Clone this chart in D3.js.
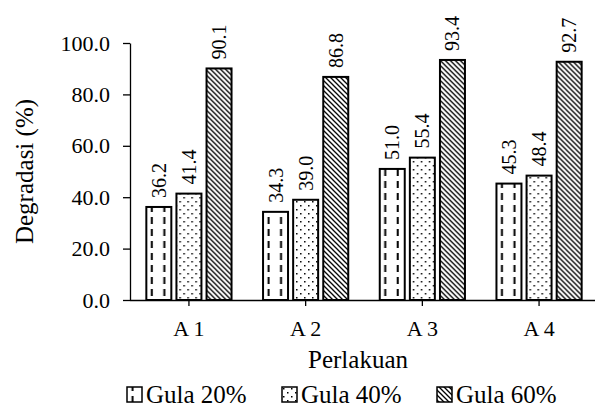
<!DOCTYPE html>
<html lang="en">
<head>
    <meta charset="UTF-8">
    <title>Degradasi</title>
    <script src="https://d3js.org/d3.v7.min.js"></script>
    <style>
        body { margin: 0; background: #fff; }
        svg { display: block; }
        svg text { font-family: "Liberation Serif", Tinos, "Times New Roman", "DejaVu Serif", serif !important; fill: #000; }
    </style>
</head>
<body>
<div id="chart"></div>
<script>
    // Data
    const categories = ["A 1", "A 2", "A 3", "A 4"];
    const seriesNames = ["Gula 20%", "Gula 40%", "Gula 60%"];
    const gula20 = [36.2, 34.3, 51.0, 45.3];
    const gula40 = [41.4, 39.0, 55.4, 48.4];
    const gula60 = [90.1, 86.8, 93.4, 92.7];
    const yTicks = [0, 20, 40, 60, 80, 100];

    const width = 595, height = 409;
    const margin = {left: 130, top: 43, bottom: 109};
    const plotRight = 598;

    const svg = d3.select("#chart").append("svg")
        .attr("width", width).attr("height", height);

    // fill patterns: dashed vertical, dotted, diagonal
    const defs = svg.append("defs");
    const p1 = defs.append("pattern").attr("id", "pat0")
        .attr("patternUnits", "userSpaceOnUse").attr("width", 12.5).attr("height", 12);
    p1.append("rect").attr("width", 12.5).attr("height", 12).attr("fill", "#fff");
    p1.append("line").attr("x1", 5.5).attr("x2", 5.5).attr("y1", 1).attr("y2", 8)
        .attr("stroke", "#000").attr("stroke-width", 2);

    const p2 = defs.append("pattern").attr("id", "pat1")
        .attr("patternUnits", "userSpaceOnUse").attr("width", 8).attr("height", 8);
    p2.append("rect").attr("width", 8).attr("height", 8).attr("fill", "#fff");
    p2.append("rect").attr("x", 1).attr("y", 1).attr("width", 1.5).attr("height", 1.5).attr("fill", "#000");
    p2.append("rect").attr("x", 5).attr("y", 5).attr("width", 1.5).attr("height", 1.5).attr("fill", "#000");

    const p3 = defs.append("pattern").attr("id", "pat2")
        .attr("patternUnits", "userSpaceOnUse").attr("width", 5).attr("height", 5);
    p3.append("rect").attr("width", 5).attr("height", 5).attr("fill", "#fff");
    p3.append("path").attr("d", "M-1,-1 L6,6 M-1,4 L1,6 M4,-1 L6,1")
        .attr("stroke", "#000").attr("stroke-width", 1.3);

    const y = d3.scaleLinear().domain([0, 100]).range([height - margin.bottom, margin.top]);
    const x = d3.scaleBand().domain(categories).range([margin.left, plotRight]).paddingInner(0.27).paddingOuter(0.14);
    const x1 = d3.scaleBand().domain(seriesNames).range([0, x.bandwidth()]).paddingInner(0.17);

    const table = categories.map((c, i) => ({cat: c, values: [gula20[i], gula40[i], gula60[i]]}));

    const groups = svg.selectAll(".grp").data(table).enter().append("g")
        .attr("transform", d => `translate(${x(d.cat)},0)`);

    groups.selectAll("rect").data(d => d.values.map((v, j) => ({name: seriesNames[j], v: v, j: j})))
        .enter().append("rect")
        .attr("x", d => x1(d.name))
        .attr("y", d => y(d.v))
        .attr("width", x1.bandwidth())
        .attr("height", d => y(0) - y(d.v))
        .attr("fill", d => `url(#pat${d.j})`)
        .attr("stroke", "#000").attr("stroke-width", 2);

    // value labels, rotated above each bar
    groups.selectAll(".lbl").data(d => d.values.map((v, j) => ({name: seriesNames[j], v: v})))
        .enter().append("text")
        .attr("transform", d => `translate(${x1(d.name) + x1.bandwidth() / 2 + 7},${y(d.v) - 9}) rotate(-90)`)
        .attr("font-size", 20)
        .text(d => d.v.toFixed(1));

    // axes
    const yAxis = svg.append("g").attr("transform", `translate(${margin.left},0)`)
        .call(d3.axisLeft(y).tickValues(yTicks).tickFormat(d => d.toFixed(1)).tickSize(7).tickSizeOuter(0).tickPadding(13));
    yAxis.attr("font-family", null);
    yAxis.selectAll("text").attr("font-size", 22);
    yAxis.selectAll("line, path").attr("stroke", "#000").attr("stroke-width", 1.3);

    const xAxis = svg.append("g").attr("transform", `translate(0,${y(0)})`)
        .call(d3.axisBottom(x).tickSize(6).tickSizeOuter(0).tickPadding(14));
    xAxis.attr("font-family", null);
    xAxis.select(".domain").attr("d", `M${margin.left},0.5H${plotRight}`);
    xAxis.selectAll("text").attr("font-size", 22);
    xAxis.selectAll("line, path").attr("stroke", "#000").attr("stroke-width", 1.3);

    // titles
    svg.append("text")
        .attr("transform", `translate(33,${(y(0) + y(100)) / 2}) rotate(-90)`)
        .attr("text-anchor", "middle").attr("font-size", 25)
        .text("Degradasi (%)");

    svg.append("text")
        .attr("x", 358).attr("y", 368)
        .attr("text-anchor", "middle").attr("font-size", 25)
        .text("Perlakuan");

    // legend
    const legendX = [127, 282, 437];
    const legend = svg.selectAll(".leg").data(seriesNames).enter().append("g")
        .attr("transform", (d, i) => `translate(${legendX[i]},395)`);
    legend.append("rect")
        .attr("x", 0).attr("y", -8).attr("width", 15).attr("height", 15)
        .attr("fill", (d, i) => `url(#pat${i})`)
        .attr("stroke", "#000").attr("stroke-width", 1.5);
    legend.append("text")
        .attr("x", 19).attr("y", 8).attr("font-size", 25)
        .text(d => d);
</script>
</body>
</html>
